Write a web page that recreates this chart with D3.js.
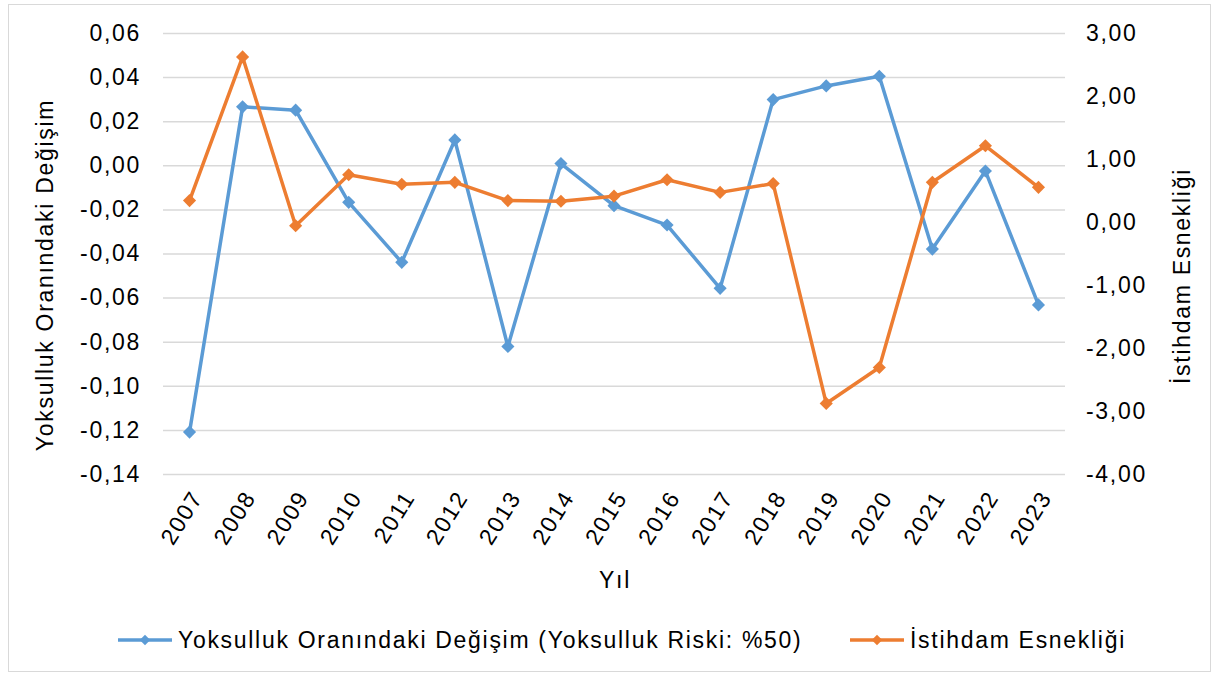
<!DOCTYPE html>
<html>
<head>
<meta charset="utf-8">
<script src="https://cdn.jsdelivr.net/npm/d3@7"></script>
<style>
  html, body { margin: 0; padding: 0; background: #fff; }
  svg text { font-family: "Liberation Sans", Arial, sans-serif; fill: #000; letter-spacing: 1.7px; }
</style>
</head>
<body>
<svg id="chart" width="1215" height="675"></svg>
<script>
const years = ["2007","2008","2009","2010","2011","2012","2013","2014","2015","2016","2017","2018","2019","2020","2021","2022","2023"];
const povertyChange = [-0.121, 0.0265, 0.025, -0.0168, -0.044, 0.0115, -0.0822, 0.0008, -0.0183, -0.0271, -0.0558, 0.0298, 0.036, 0.0404, -0.038, -0.0026, -0.0633];
const employmentElasticity = [0.34, 2.62, -0.06, 0.75, 0.60, 0.63, 0.34, 0.33, 0.41, 0.67, 0.47, 0.61, -2.88, -2.31, 0.63, 1.21, 0.55];
const leftTicks = [0.06, 0.04, 0.02, 0.00, -0.02, -0.04, -0.06, -0.08, -0.10, -0.12, -0.14];
const rightTicks = [3, 2, 1, 0, -1, -2, -3, -4];
const seriesNames = ["Yoksulluk Oranındaki Değişim (Yoksulluk Riski: %50)", "İstihdam Esnekliği"];
const colors = ["#5B9BD5", "#ED7D31"];

const svg = d3.select("#chart");
const plot = {left: 163, right: 1065, top: 33, bottom: 474};
const fs = 23;

// outer border
svg.append("rect").attr("x", 8.5).attr("y", 4.5).attr("width", 1202).attr("height", 667)
  .attr("fill", "none").attr("stroke", "#D9D9D9").attr("stroke-width", 1);

const x = d3.scaleBand().domain(years).range([plot.left, plot.right]);
const yL = d3.scaleLinear().domain([-0.14, 0.06]).range([plot.bottom, plot.top]);
const yR = d3.scaleLinear().domain([-4, 3]).range([plot.bottom, plot.top]);

const fmt = (d, n) => d3.format("." + n + "f")(d).replace("−", "-").replace(".", ",");

// gridlines
svg.append("g").attr("transform", `translate(${plot.left},0)`)
  .call(d3.axisLeft(yL).tickValues(leftTicks).tickSize(-(plot.right - plot.left)).tickFormat(""))
  .call(g => g.select(".domain").remove())
  .call(g => g.selectAll("line").attr("stroke", "#D9D9D9").attr("stroke-width", 1.5));

// left axis labels
svg.append("g").attr("transform", `translate(${plot.left},0)`)
  .call(d3.axisLeft(yL).tickValues(leftTicks).tickSize(0).tickPadding(22).tickFormat(d => fmt(d, 2)))
  .call(g => g.select(".domain").remove())
  .call(g => g.selectAll("text").style("font-size", fs + "px").attr("fill", "#000"));

// right axis labels
svg.append("g").attr("transform", `translate(${plot.right},0)`)
  .call(d3.axisRight(yR).tickValues(rightTicks).tickSize(0).tickPadding(21).tickFormat(d => fmt(d, 2)))
  .call(g => g.select(".domain").remove())
  .call(g => g.selectAll("text").style("font-size", fs + "px").attr("fill", "#000"));

// x axis labels
svg.append("g").attr("transform", `translate(0,${plot.bottom})`)
  .call(d3.axisBottom(x).tickSize(0).tickFormat(d => d))
  .call(g => g.select(".domain").remove())
  .call(g => g.selectAll("text")
    .style("font-size", fs + "px").attr("fill", "#000")
    .attr("text-anchor", "end")
    .attr("dy", null).attr("y", 0)
    .attr("transform", "translate(9,20) rotate(-58)")
    .attr("dominant-baseline", "middle"));

// axis titles
svg.append("text").attr("x", plot.left + (plot.right - plot.left) / 2 + 1).attr("y", 588)
  .attr("text-anchor", "middle").style("font-size", fs + "px").text("Yıl");
svg.append("text").attr("transform", "translate(53,275) rotate(-90)")
  .attr("text-anchor", "middle").style("font-size", fs + "px").text("Yoksulluk Oranındaki Değişim");
svg.append("text").attr("transform", "translate(1190,276) rotate(-90)")
  .attr("text-anchor", "middle").style("font-size", fs + "px").text("İstihdam Esnekliği");

const cx = d => x(d) + x.bandwidth() / 2;
const diamond = d3.symbol().type(d3.symbolDiamond2);

function drawSeries(vals, yScale, color) {
  const data = years.map((yr, i) => ({yr, v: vals[i]}));
  svg.append("path").datum(data)
    .attr("fill", "none").attr("stroke", color).attr("stroke-width", 3.5).attr("stroke-linejoin", "round")
    .attr("d", d3.line().x(d => cx(d.yr)).y(d => yScale(d.v)));
  svg.append("g").selectAll("path").data(data).join("path")
    .attr("transform", d => `translate(${cx(d.yr)},${yScale(d.v)})`)
    .attr("d", diamond.size(110)())
    .attr("fill", color);
}
drawSeries(povertyChange, yL, colors[0]);
drawSeries(employmentElasticity, yR, colors[1]);

// legend
const legend = [
  {name: seriesNames[0], color: colors[0], x0: 118},
  {name: seriesNames[1], color: colors[1], x0: 850}
];
const lg = svg.append("g");
legend.forEach(l => {
  lg.append("line").attr("x1", l.x0).attr("x2", l.x0 + 54).attr("y1", 640).attr("y2", 640)
    .attr("stroke", l.color).attr("stroke-width", 3.5);
  lg.append("path").attr("transform", `translate(${l.x0 + 27},640)`)
    .attr("d", diamond.size(70)()).attr("fill", l.color);
  lg.append("text").attr("x", l.x0 + 60).attr("y", 640).attr("dy", "0.35em")
    .style("font-size", fs + "px").text(l.name);
});
</script>
</body>
</html>
